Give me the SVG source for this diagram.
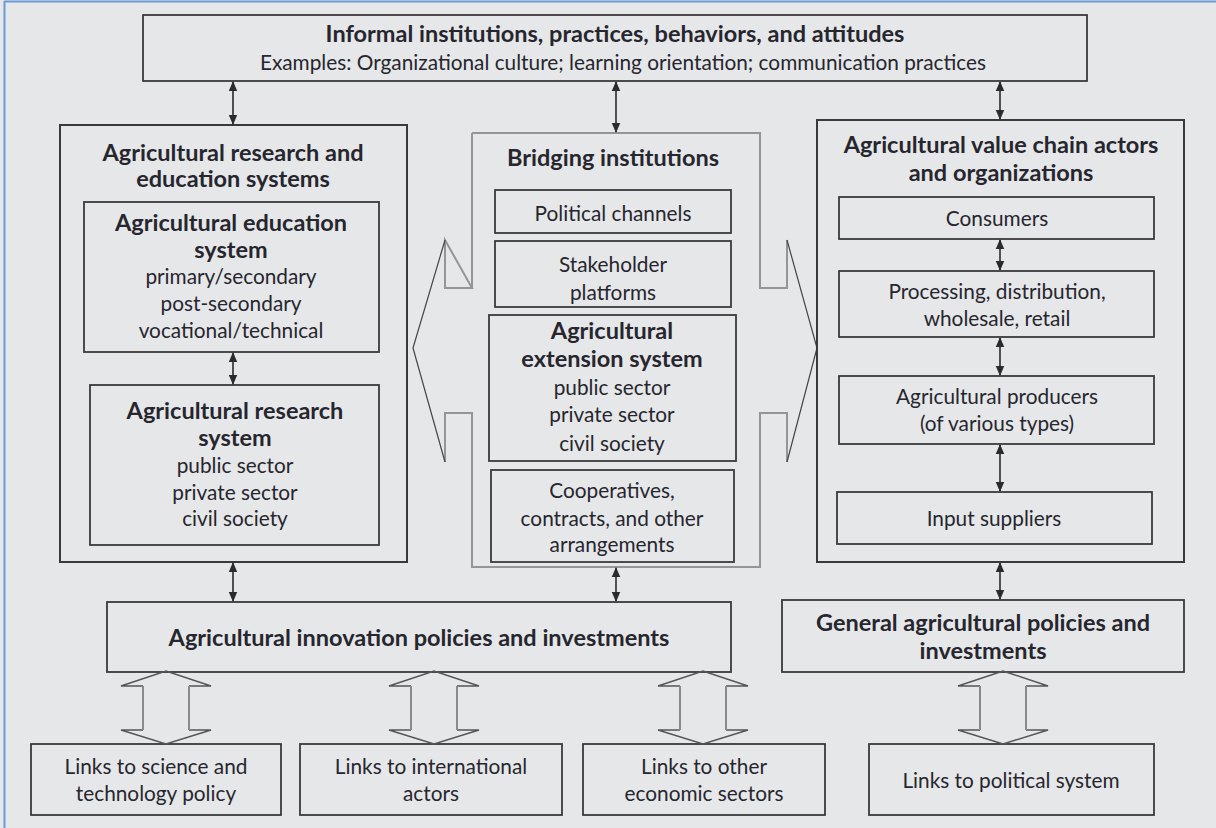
<svg xmlns="http://www.w3.org/2000/svg" width="1216" height="828" viewBox="0 0 1216 828">
<defs>
<marker id="ah" markerUnits="userSpaceOnUse" markerWidth="10" markerHeight="10" viewBox="0 0 10 10" refX="9" refY="5" orient="auto-start-reverse">
<path d="M0,0.8 L10,5 L0,9.2 z" fill="#2b2b2b"/>
</marker>
<style>
.box{fill:none;stroke:#3a3a3a;stroke-width:1.8}
.obox{fill:none;stroke:#3a3a3a;stroke-width:2}
.b{font-family:Lato,"Open Sans",sans-serif;font-weight:bold;font-size:23.5px;fill:#26262e;text-anchor:middle}
.r{font-family:Lato,"Open Sans",sans-serif;font-size:20.8px;fill:#26262e;text-anchor:middle}
.con{stroke:#2b2b2b;stroke-width:1.6;fill:none;marker-start:url(#ah);marker-end:url(#ah)}
.hol{fill:none;stroke:#555;stroke-width:1.4;stroke-linejoin:miter}
.holstem{fill:none;stroke:#8a8a8a;stroke-width:2}
.bridge{fill:none;stroke:#959595;stroke-width:2}
.bridgehead{fill:none;stroke:#444;stroke-width:1.2}
</style>
</defs>
<rect x="0" y="0" width="1216" height="828" fill="#e6e7e9"/>
<line x1="4" y1="1.5" x2="1216" y2="1.5" stroke="#6b9ad6" stroke-width="2"/>
<line x1="4.5" y1="1" x2="4.5" y2="828" stroke="#6b9ad6" stroke-width="2"/>

<g id="informal">
<rect class="box" x="143" y="15" width="944" height="66"/>
<text class="b" x="615" y="41.5">Informal institutions, practices, behaviors, and attitudes</text>
<text class="r" x="623" y="69.5">Examples: Organizational culture; learning orientation; communication practices</text>
</g>

<g id="research-education">
<rect class="obox" x="60" y="125" width="347" height="437"/>
<text class="b" x="233" y="160.5">Agricultural research and</text>
<text class="b" x="233" y="186.5">education systems</text>
</g>
<g id="education">
<rect class="box" x="84" y="202" width="295" height="150"/>
<text class="b" x="231" y="230.5">Agricultural education</text>
<text class="b" x="231" y="257.5">system</text>
<text class="r" x="231" y="283.5">primary/secondary</text>
<text class="r" x="231" y="310.5">post-secondary</text>
<text class="r" x="231" y="337.5">vocational/technical</text>
</g>
<g id="research">
<rect class="box" x="90" y="385" width="289" height="160"/>
<text class="b" x="235" y="418.5">Agricultural research</text>
<text class="b" x="235" y="445.5">system</text>
<text class="r" x="235" y="472.5">public sector</text>
<text class="r" x="235" y="499.5">private sector</text>
<text class="r" x="235" y="525.5">civil society</text>
</g>

<g id="bridging">
<path class="bridge" d="M472,133 L760,133 L760,288 L787,288 L787,240 M787,462 L787,413 L760,413 L760,567 L472,567 L472,413 L445,413 L445,462 M445,240 L445,288 L472,288 Z M472,288 L472,133"/>
<path class="bridgehead" d="M787,240 L817,348 L787,462 M445,240 L413,348 L445,462"/>
<text class="b" x="613" y="165.5">Bridging institutions</text>
</g>
<g id="political-channels">
<rect class="box" x="495" y="190" width="236" height="43"/>
<text class="r" x="613" y="220.5">Political channels</text>
</g>
<g id="stakeholder">
<rect class="box" x="495" y="241" width="236" height="66"/>
<text class="r" x="613" y="271.5">Stakeholder</text>
<text class="r" x="613" y="299.5">platforms</text>
</g>
<g id="extension">
<rect class="box" x="489" y="315" width="247" height="146"/>
<text class="b" x="612" y="338.5">Agricultural</text>
<text class="b" x="612" y="366.5">extension system</text>
<text class="r" x="612" y="394.5">public sector</text>
<text class="r" x="612" y="421.5">private sector</text>
<text class="r" x="612" y="450.5">civil society</text>
</g>
<g id="cooperatives">
<rect class="box" x="491" y="470" width="243" height="92"/>
<text class="r" x="612" y="497.5">Cooperatives,</text>
<text class="r" x="612" y="525.5">contracts, and other</text>
<text class="r" x="612" y="551.5">arrangements</text>
</g>

<g id="value-chain">
<rect class="obox" x="817" y="120" width="367" height="442"/>
<text class="b" x="1001" y="152.5">Agricultural value chain actors</text>
<text class="b" x="1001" y="180.5">and organizations</text>
</g>
<g id="consumers">
<rect class="box" x="839" y="197" width="315" height="42"/>
<text class="r" x="997" y="225.5">Consumers</text>
</g>
<g id="processing">
<rect class="box" x="839" y="271" width="315" height="66"/>
<text class="r" x="997" y="298.5">Processing, distribution,</text>
<text class="r" x="997" y="325.5">wholesale, retail</text>
</g>
<g id="producers">
<rect class="box" x="839" y="376" width="315" height="68"/>
<text class="r" x="997" y="403.5">Agricultural producers</text>
<text class="r" x="997" y="430.5">(of various types)</text>
</g>
<g id="input-suppliers">
<rect class="box" x="837" y="492" width="315" height="52"/>
<text class="r" x="994" y="525.5">Input suppliers</text>
</g>

<g id="innovation-policies">
<rect class="box" x="107" y="602" width="624" height="70"/>
<text class="b" x="419" y="645.5">Agricultural innovation policies and investments</text>
</g>
<g id="general-policies">
<rect class="box" x="782" y="600" width="402" height="72"/>
<text class="b" x="983" y="630.5">General agricultural policies and</text>
<text class="b" x="983" y="658.5">investments</text>
</g>

<g id="links-science">
<rect class="box" x="31" y="744" width="250" height="71"/>
<text class="r" x="156" y="773.5">Links to science and</text>
<text class="r" x="156" y="800.5">technology policy</text>
</g>
<g id="links-international">
<rect class="box" x="300" y="744" width="262" height="71"/>
<text class="r" x="431" y="773.5">Links to international</text>
<text class="r" x="431" y="800.5">actors</text>
</g>
<g id="links-economic">
<rect class="box" x="583" y="744" width="242" height="71"/>
<text class="r" x="704" y="773.5">Links to other</text>
<text class="r" x="704" y="800.5">economic sectors</text>
</g>
<g id="links-political">
<rect class="box" x="869" y="744" width="285" height="71"/>
<text class="r" x="1011" y="787.5">Links to political system</text>
</g>

<g id="connectors">
<line class="con" x1="233" y1="82" x2="233" y2="124"/>
<line class="con" x1="616" y1="82" x2="616" y2="132"/>
<line class="con" x1="1000" y1="82" x2="1000" y2="119"/>
<line class="con" x1="233" y1="353" x2="233" y2="384"/>
<line class="con" x1="233" y1="563" x2="233" y2="601"/>
<line class="con" x1="616" y1="568" x2="616" y2="601"/>
<line class="con" x1="1000" y1="240" x2="1000" y2="270"/>
<line class="con" x1="1000" y1="338" x2="1000" y2="375"/>
<line class="con" x1="1000" y1="445" x2="1000" y2="491"/>
<line class="con" x1="1000" y1="563" x2="1000" y2="599"/>

<g transform="translate(166,0)">
<path class="hol" d="M-23,686 L-45,686 L0,671 L45,686 L23,686 M23,730 L45,730 L0,744 L-45,730 L-23,730"/>
<path class="holstem" d="M-23,686 L-23,730 M23,686 L23,730"/>
</g>
<g transform="translate(434,0)">
<path class="hol" d="M-23,686 L-45,686 L0,671 L45,686 L23,686 M23,730 L45,730 L0,744 L-45,730 L-23,730"/>
<path class="holstem" d="M-23,686 L-23,730 M23,686 L23,730"/>
</g>
<g transform="translate(703,0)">
<path class="hol" d="M-23,686 L-45,686 L0,671 L45,686 L23,686 M23,730 L45,730 L0,744 L-45,730 L-23,730"/>
<path class="holstem" d="M-23,686 L-23,730 M23,686 L23,730"/>
</g>
<g transform="translate(1003,0)">
<path class="hol" d="M-23,686 L-45,686 L0,671 L45,686 L23,686 M23,730 L45,730 L0,744 L-45,730 L-23,730"/>
<path class="holstem" d="M-23,686 L-23,730 M23,686 L23,730"/>
</g>
</g>
</svg>
